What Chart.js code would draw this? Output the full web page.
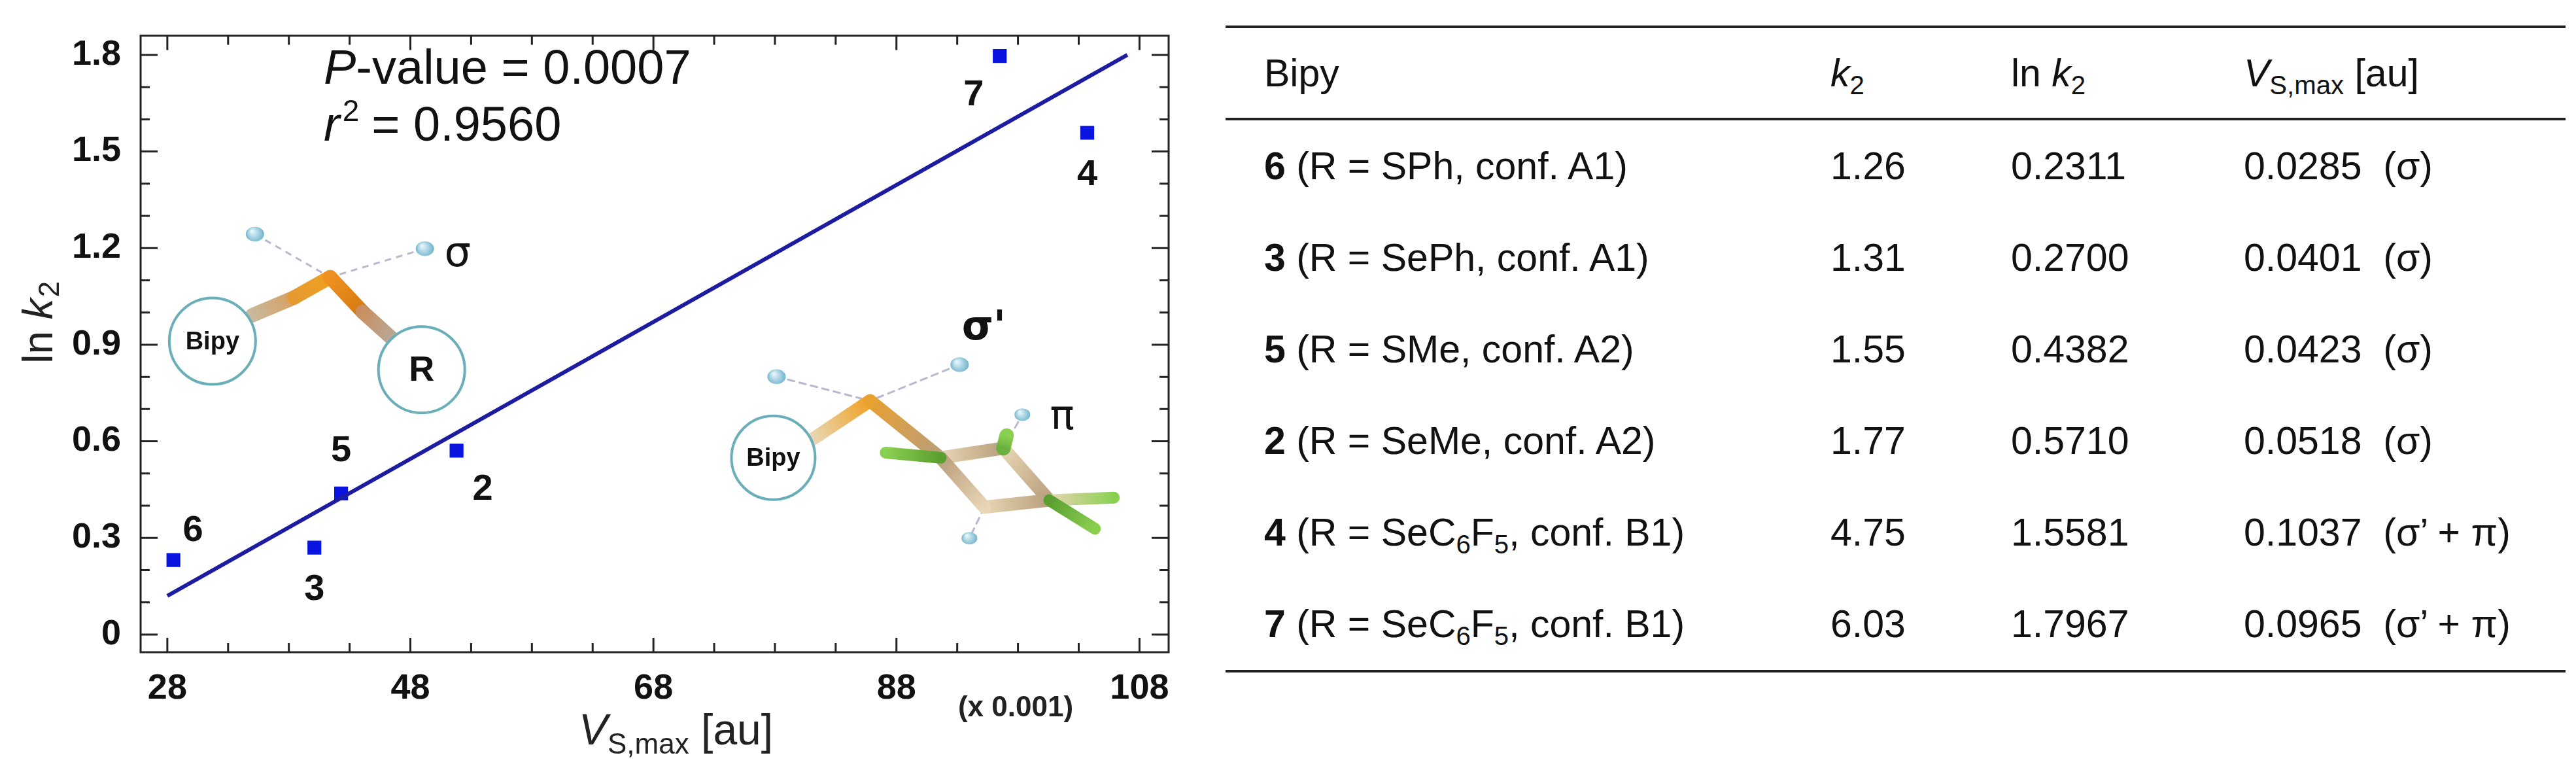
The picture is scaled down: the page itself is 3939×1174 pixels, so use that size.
<!DOCTYPE html>
<html><head><meta charset="utf-8">
<script src="https://cdn.jsdelivr.net/npm/chart.js@4"></script>
<style>
html,body{margin:0;padding:0;background:#fff;width:3939px;height:1174px;overflow:hidden;font-family:"Liberation Sans",Arial,sans-serif;}
#wrap{position:absolute;left:0;top:0;width:1850px;height:1174px;}
#tbl{position:absolute;left:1874px;top:39px;width:2049px;border-collapse:collapse;font-size:59px;color:#111;}
#tbl td{padding:0;height:140px;vertical-align:middle;white-space:nowrap;}
#tbl tr.h td{height:137px;border-bottom:4px solid #222;}
#tbl{border-top:4px solid #222;border-bottom:4px solid #222;}
sub{font-size:0.68em;vertical-align:-0.3em;line-height:0;}
</style></head><body>
<div id="wrap"><canvas id="c" width="1850" height="1174"></canvas></div>
<table id="tbl">
<colgroup><col style="width:925px"><col style="width:276px"><col style="width:356px"><col></colgroup>
<tr class="h"><td style="padding-left:59px">Bipy</td><td><i>k</i><sub>2</sub></td><td>ln <i>k</i><sub>2</sub></td><td><i>V</i><sub>S,max</sub> [au]</td></tr>
<tbody id="tb"></tbody>
</table>
<script>
// ---- data ----
const compounds = ["6","3","5","2","4","7"];
const substituents = ["SPh, conf. A1","SePh, conf. A1","SMe, conf. A2","SeMe, conf. A2","SeC<sub>6</sub>F<sub>5</sub>, conf. B1","SeC<sub>6</sub>F<sub>5</sub>, conf. B1"];
const k2 = ["1.26","1.31","1.55","1.77","4.75","6.03"];
const lnK2 = [0.2311,0.2700,0.4382,0.5710,1.5581,1.7967];
const vsMax = [0.0285,0.0401,0.0423,0.0518,0.1037,0.0965];
const vsDigits = ["0.0285","0.0401","0.0423","0.0518","0.1037","0.0965"];
const holes = ["(σ)","(σ)","(σ)","(σ)","(σ’ + π)","(σ’ + π)"];
const fitX = [28, 107];
const fitY = [0.12, 1.80];
const xTickLabels = [28,48,68,88,108];
const yTickLabels = [0,0.3,0.6,0.9,1.2,1.5,1.8];

// table
const tb=document.getElementById('tb');
compounds.forEach((c,i)=>{
  const tr=document.createElement('tr');
  tr.innerHTML=`<td style="padding-left:59px"><b>${c}</b> (R = ${substituents[i]})</td><td>${k2[i]}</td><td>${lnK2[i].toFixed(4)}</td><td>${vsDigits[i]} &nbsp;${holes[i]}</td>`;
  tb.appendChild(tr);
});

// label offsets (pixels) for point numbers
const labelOff = [[30,-45],[0,65],[0,-65],[40,60],[0,65],[-40,60]];
const pts = vsMax.map((v,i)=>({x:v*1000,y:lnK2[i]}));

// conversion from reference pixel to data (for decorations only)
const P=(px,py)=>[28+(px-256)/18.59,(969-py)/508.3];

const deco = {
  id:'deco',
  afterDatasetsDraw(ch){
    const ctx=ch.ctx, xs=ch.scales.x, ys=ch.scales.y, a=ch.chartArea;
    const px=p=>[xs.getPixelForValue(p[0]),ys.getPixelForValue(p[1])];
    ctx.save();
    ctx.strokeStyle='#222';ctx.lineWidth=3;
    ctx.strokeRect(a.left,a.top,a.right-a.left,a.bottom-a.top);
    for(let v=28;v<=108;v+=5){
      const X=xs.getPixelForValue(v), L=(v-28)%20===0?22:14;
      ctx.beginPath();ctx.moveTo(X,a.bottom);ctx.lineTo(X,a.bottom-L);ctx.moveTo(X,a.top);ctx.lineTo(X,a.top+L);ctx.stroke();
    }
    for(let k=0;k<=18;k++){
      const Y=ys.getPixelForValue(k/10), L=k%3===0?26:14;
      ctx.beginPath();ctx.moveTo(a.left,Y);ctx.lineTo(a.left+L,Y);ctx.moveTo(a.right,Y);ctx.lineTo(a.right-L,Y);ctx.stroke();
    }
    ctx.fillStyle='#111';ctx.font='bold 56px "Liberation Sans"';ctx.textAlign='center';ctx.textBaseline='middle';
    pts.forEach((p,i)=>{ctx.fillText(compounds[i],xs.getPixelForValue(p.x)+labelOff[i][0],ys.getPixelForValue(p.y)+labelOff[i][1]);});
    ctx.textAlign='left';ctx.textBaseline='alphabetic';
    ctx.font='italic 74px "Liberation Sans"';ctx.fillText('P',495,128);
    let w=ctx.measureText('P').width;
    ctx.font='74px "Liberation Sans"';ctx.fillText('-value = 0.0007',495+w,128);
    ctx.font='italic 74px "Liberation Sans"';ctx.fillText('r',495,215);
    w=ctx.measureText('r').width;
    ctx.font='46px "Liberation Sans"';ctx.fillText('2',495+w+4,185);
    ctx.font='74px "Liberation Sans"';ctx.fillText(' = 0.9560',495+w+28,215);

    const bond=(p1,p2,c1,c2,wd)=>{const A=px(p1),B=px(p2);const g=ctx.createLinearGradient(A[0],A[1],B[0],B[1]);g.addColorStop(0,c1);g.addColorStop(1,c2);ctx.strokeStyle=g;ctx.lineWidth=wd;ctx.lineCap='round';ctx.beginPath();ctx.moveTo(A[0],A[1]);ctx.lineTo(B[0],B[1]);ctx.stroke();};
    const dash=(p1,p2)=>{const A=px(p1),B=px(p2);ctx.save();ctx.setLineDash([10,8]);ctx.strokeStyle='#b8b8d0';ctx.lineWidth=3;ctx.beginPath();ctx.moveTo(A[0],A[1]);ctx.lineTo(B[0],B[1]);ctx.stroke();ctx.restore();};
    const ball=(p,r)=>{const A=px(p);const g=ctx.createRadialGradient(A[0]-r/3,A[1]-r/3,1,A[0],A[1],r);g.addColorStop(0,'#e6f6fb');g.addColorStop(1,'#6fb3cc');ctx.fillStyle=g;ctx.beginPath();ctx.ellipse(A[0],A[1],r,r*0.8,0,0,7);ctx.fill();};
    const circ=(p,r,t,fs)=>{const A=px(p);ctx.fillStyle='#fff';ctx.strokeStyle='#6aaeb8';ctx.lineWidth=4;ctx.beginPath();ctx.arc(A[0],A[1],r,0,7);ctx.fill();ctx.stroke();ctx.fillStyle='#111';ctx.font='bold '+fs+'px "Liberation Sans"';ctx.textAlign='center';ctx.textBaseline='middle';ctx.fillText(t,A[0],A[1]+2);};
    const txt=(p,t,f)=>{const A=px(p);ctx.fillStyle='#111';ctx.font=f;ctx.textAlign='center';ctx.textBaseline='middle';ctx.fillText(t,A[0],A[1]);};
    dash(P(390,337),P(505,405));dash(P(650,360),P(505,405));
    bond(P(386,465),P(450,437),'#c8b89c','#d7a060',22);
    bond(P(450,437),P(505,405),'#e59a30','#f0a020',22);
    bond(P(505,405),P(555,460),'#f09020','#d47a10',22);
    bond(P(555,460),P(600,502),'#c89060','#b8a898',22);
    ball(P(390,337),14);ball(P(650,360),14);
    circ(P(325,506),66,'Bipy',38);circ(P(645,551),66,'R',54);
    txt(P(700,370),'σ','64px "DejaVu Sans"');
    dash(P(1188,562),P(1331,600));dash(P(1468,543),P(1331,600));
    dash(P(1535,675),P(1564,622));dash(P(1506,768),P(1483,817));
    const tan1='#e8d6b4',tan2='#b89e7c';
    bond(P(1244,660),P(1331,600),tan1,'#f0a020',20);
    bond(P(1331,600),P(1439,690),'#e8a030',tan2,20);
    bond(P(1439,690),P(1535,675),tan1,tan2,20);
    bond(P(1535,675),P(1605,757),tan1,tan2,20);
    bond(P(1605,757),P(1506,768),tan2,tan1,20);
    bond(P(1506,768),P(1439,690),tan1,tan2,20);
    bond(P(1439,690),P(1355,682),'#5a9e30','#8ad050',18);
    bond(P(1605,757),P(1704,753),tan1,'#8ad050',18);
    bond(P(1605,757),P(1675,802),'#5a9e30','#8ad050',18);
    bond(P(1535,675),P(1540,655),'#6ab040','#8ad050',22);
    ball(P(1188,562),14);ball(P(1468,543),14);ball(P(1564,622),12);ball(P(1483,817),12);
    circ(P(1183,690),64,'Bipy',38);
    txt(P(1505,487),'σ\'','bold 62px "DejaVu Sans"');
    txt(P(1625,628),'π','62px "DejaVu Sans"');
    ctx.restore();
    ctx.save();ctx.fillStyle='#222';
    ctx.translate(62,495);ctx.rotate(-Math.PI/2);
    ctx.textAlign='left';ctx.textBaseline='middle';
    ctx.font='64px "Liberation Sans"';let t1=ctx.measureText('ln ').width;
    ctx.font='italic 64px "Liberation Sans"';let t2=ctx.measureText('k').width;
    let x0=-(t1+t2+22)/2;
    ctx.font='64px "Liberation Sans"';ctx.fillText('ln ',x0,0);
    ctx.font='italic 64px "Liberation Sans"';ctx.fillText('k',x0+t1,0);
    ctx.font='44px "Liberation Sans"';ctx.fillText('2',x0+t1+t2+2,16);
    ctx.restore();
    ctx.save();ctx.fillStyle='#222';ctx.textBaseline='alphabetic';ctx.textAlign='left';
    let bx=885,by=1138;
    ctx.font='italic 66px "Liberation Sans"';ctx.fillText('V',bx,by);bx+=ctx.measureText('V').width;
    ctx.font='44px "Liberation Sans"';ctx.fillText('S,max',bx,by+14);bx+=ctx.measureText('S,max').width;
    ctx.font='66px "Liberation Sans"';ctx.fillText(' [au]',bx,by);
    ctx.font='bold 44px "Liberation Sans"';ctx.textAlign='center';ctx.fillText('(x 0.001)',1553,1095);
    ctx.restore();
  }
};

new Chart(document.getElementById('c'),{
  type:'scatter',
  data:{datasets:[
    {type:'line',data:fitX.map((x,i)=>({x,y:fitY[i]})),borderColor:'#1c1ca0',borderWidth:6,pointRadius:0,fill:false},
    {data:pts,pointStyle:'rect',pointRadius:15,backgroundColor:'#0a14e0',borderColor:'#0a14e0',borderWidth:0}
  ]},
  plugins:[deco],
  options:{
    responsive:false,animation:false,devicePixelRatio:1,
    layout:{padding:{top:24,right:63,left:0,bottom:0}},
    plugins:{legend:{display:false},tooltip:{enabled:false}},
    scales:{
      x:{type:'linear',min:25.8,max:110.4,grid:{display:false},border:{display:false},
        afterBuildTicks:s=>{s.ticks=xTickLabels.map(v=>({value:v}));},
        afterFit:s=>{s.height=177;},
        ticks:{color:'#111',padding:16,font:{family:'Liberation Sans',weight:'bold',size:54},maxRotation:0,autoSkip:false}},
      y:{type:'linear',min:-0.055,max:1.86,grid:{display:false},border:{display:false},
        afterBuildTicks:s=>{s.ticks=yTickLabels.map(v=>({value:v}));},
        afterFit:s=>{s.width=215;},
        ticks:{color:'#111',padding:22,font:{family:'Liberation Sans',weight:'bold',size:54},autoSkip:false,
          callback:v=>v===0?'0':v.toFixed(1)}}
    }
  }
});
</script>
</body></html>
